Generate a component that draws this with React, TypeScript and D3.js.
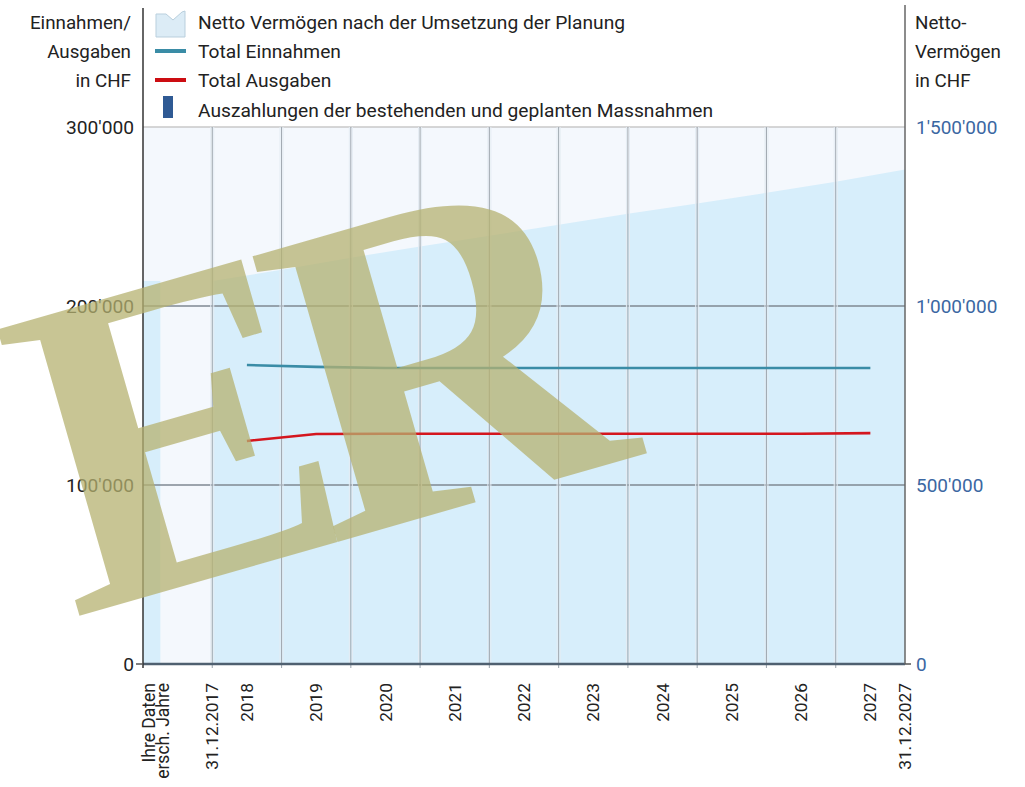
import React from "react";
import * as d3 from "d3";

const categories = ["Ihre Daten|ersch. Jahre", "2018", "2019", "2020", "2021", "2022", "2023", "2024", "2025", "2026", "2027"];
const years = ["2018", "2019", "2020", "2021", "2022", "2023", "2024", "2025", "2026", "2027"];
const boundaryLabels = ["31.12.2017", "31.12.2027"];
const einnahmen = [167000, 166000, 165400, 165400, 165400, 165400, 165400, 165400, 165400, 165400];
const ausgaben = [124600, 128500, 128600, 128600, 128600, 128600, 128600, 128600, 128600, 129000];
const massnahmen = [0, 0, 0, 0, 0, 0, 0, 0, 0, 0];
// Netto Vermögen at 31.12.2017 and at end of each year 2018..2027
const vermoegen = [1070000, 1101000, 1135000, 1166000, 1196000, 1227000, 1258000, 1286000, 1316000, 1347000, 1381000];
const vermoegenIhreDaten = 1070000;
const leftTicks = [0, 100000, 200000, 300000];
const rightTicks = [0, 500000, 1000000, 1500000];
const legendItems = [
  "Netto Vermögen nach der Umsetzung der Planung",
  "Total Einnahmen",
  "Total Ausgaben",
  "Auszahlungen der bestehenden und geplanten Massnahmen",
];
const leftTitle = ["Einnahmen/", "Ausgaben", "in CHF"];
const rightTitle = ["Netto-", "Vermögen", "in CHF"];

const W = 1025, H = 787;
const L = 143, R = 905, T = 127, B = 664;
const FONT = "Roboto, 'Noto Sans', sans-serif";

const loc = d3.formatLocale({ thousands: "'", grouping: [3], decimal: ".", currency: ["", ""] });
const fmt = loc.format(",d");

export default function App() {
  const x = d3.scaleBand<string>().domain(categories).range([L, R]).paddingInner(0).paddingOuter(0);
  const bw = x.bandwidth();
  const yL = d3.scaleLinear().domain([0, 300000]).range([B, T]);
  const yR = d3.scaleLinear().domain([0, 1500000]).range([B, T]);

  const bx = (i: number) => (x(years[0]) as number) + i * bw; // boundaries
  const area = d3.area<number>().x((_, i) => bx(i)).y0(B).y1((d) => yR(d));
  const lineGen = d3.line<number>().x((_, i) => (x(years[i]) as number) + bw / 2).y((d) => yL(d));

  const gridXs = d3.range(1, categories.length).map((i) => L + i * bw);

  return (
    <svg width={W} height={H} style={{ position: "absolute", left: 0, top: 0, background: "#fff" }} fontFamily={FONT}>
      {/* plot background */}
      <rect x={L} y={T} width={R - L} height={B - T} fill="#f4f8fd" />
      {/* Ihre Daten strip */}
      <rect x={L} y={yR(vermoegenIhreDaten)} width={bw * 0.25} height={B - yR(vermoegenIhreDaten)} fill="#d7eefb" />
      {/* area */}
      <path d={area(vermoegen) || ""} fill="#d7eefb" />
      {/* horizontal grid */}
      {leftTicks.map((t) => (
        <line key={"h" + t} x1={L} x2={R} y1={yL(t)} y2={yL(t)} stroke={t === 300000 ? "#c9c9c9" : "#7f8892"} strokeWidth={1.4} />
      ))}
      {/* vertical grid */}
      {gridXs.map((gx, i) => (
        <g key={"v" + i}>
          <line x1={gx - 1.5} x2={gx - 1.5} y1={T} y2={B} stroke="#e4ecf3" strokeWidth={1} />
          <line x1={gx} x2={gx} y1={T} y2={B + 4} stroke="#a3abb3" strokeWidth={1.1} />
          <line x1={gx + 1.5} x2={gx + 1.5} y1={T} y2={B} stroke="#e4ecf3" strokeWidth={1} />
        </g>
      ))}
      {/* massnahmen bars */}
      {massnahmen.map((v, i) => (
        <rect key={"b" + i} x={(x(years[i]) as number) + bw * 0.35} width={bw * 0.3} y={yL(v)} height={B - yL(v)} fill="#2f5a94" />
      ))}
      {/* lines */}
      <path d={lineGen(einnahmen) || ""} fill="none" stroke="#3a8ca6" strokeWidth={2.6} />
      <path d={lineGen(ausgaben) || ""} fill="none" stroke="#d4161e" strokeWidth={2.6} />
      {/* axes */}
      <line x1={L} x2={R} y1={B} y2={B} stroke="#4f6070" strokeWidth={2.5} />
      <line x1={L} x2={L} y1={8} y2={B + 4} stroke="#333" strokeWidth={1.5} />
      <line x1={R} x2={R} y1={5} y2={B} stroke="#666" strokeWidth={1.5} />
      <line x1={L - 7} x2={L} y1={B} y2={B} stroke="#555" strokeWidth={1.5} />
      <line x1={R} x2={R + 6} y1={B} y2={B} stroke="#555" strokeWidth={1.5} />
      {/* left ticks */}
      {leftTicks.map((t) => (
        <text key={"lt" + t} x={L - 9} y={yL(t)} dy="0.35em" textAnchor="end" fontSize={19.2} fill="#222">{fmt(t)}</text>
      ))}
      {rightTicks.map((t) => (
        <text key={"rt" + t} x={R + 11} y={yR(t)} dy="0.35em" textAnchor="start" fontSize={19} fill="#3b67a2">{fmt(t)}</text>
      ))}
      {/* axis titles */}
      {leftTitle.map((s, i) => (
        <text key={"lti" + i} x={131} y={29 + i * 29} textAnchor="end" fontSize={18.8} fill="#222">{s}</text>
      ))}
      {rightTitle.map((s, i) => (
        <text key={"rti" + i} x={915} y={29 + i * 29} textAnchor="start" fontSize={18.8} fill="#222">{s}</text>
      ))}
      {/* x labels */}
      {categories.map((c, i) => {
        if (i === 0) {
          const parts = c.split("|");
          return parts.map((p, j) => (
            <text key={"xl0" + j} transform={`translate(${L + 6 + j * 14},683) rotate(-90)`} textAnchor="end" dy="0.35em" fontSize={17.5} fill="#222">{p}</text>
          ));
        }
        return (
          <text key={"xl" + i} transform={`translate(${(x(c) as number) + bw / 2},683) rotate(-90)`} textAnchor="end" dy="0.35em" fontSize={17.3} fill="#222">{c}</text>
        );
      })}
      <text transform={`translate(${x(years[0])},683) rotate(-90)`} textAnchor="end" dy="0.35em" fontSize={17.3} fill="#222">{boundaryLabels[0]}</text>
      <text transform={`translate(${R},683) rotate(-90)`} textAnchor="end" dy="0.35em" fontSize={17.3} fill="#222">{boundaryLabels[1]}</text>
      {/* legend */}
      <g>
        <path d="M156,37 L156,14 L166,14 L173,20 L182,12 L185,11 L185,37 Z" fill="#dcecf6" stroke="#b9cfdd" strokeWidth={1} />
        <line x1={155} x2={186} y1={51} y2={51} stroke="#3a8ca6" strokeWidth={4} />
        <line x1={155} x2={186} y1={80} y2={80} stroke="#cc0d12" strokeWidth={4} />
        <rect x={163} y={96} width={10} height={22} fill="#2f5a94" />
        {legendItems.map((s, i) => (
          <text key={"lg" + i} x={198} y={22 + i * 29.3} dy="0.35em" fontSize={19.2} fill="#222">{s}</text>
        ))}
      </g>
      {/* watermark */}
      <text transform="translate(72,618) rotate(-16)" fontFamily="'Liberation Serif', 'DejaVu Serif', serif" fontWeight="bold" fontSize={455} letterSpacing={-38} fill="rgb(182,177,112)" fillOpacity={0.75}>ER</text>
    </svg>
  );
}
